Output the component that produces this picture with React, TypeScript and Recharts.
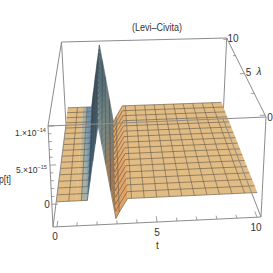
import { ScatterChart, Scatter, XAxis, YAxis } from 'recharts';

// surface values, p in units of 1e-14
const tValues = [0, 0.625, 1, 1.25, 1.55, 1.875, 2.18, 2.5, 2.95, 3.125, 3.55, 3.75, 4.375, 5, 5.625, 6.25, 6.875, 7.5, 8.125, 8.75, 9.375, 10];
const pValues = [0, 0, 0, 0, 0, 0.5, 0.96, 0.46, -0.25, -0.17, 0, 0, 0, 0, 0, 0, 0, 0, 0, 0, 0, 0];
const meshT = [0.625, 1.25, 1.7, 1.875, 2.02, 2.34, 2.5, 2.72, 3.125, 3.75, 4.375, 5, 5.625, 6.25, 6.875, 7.5, 8.125, 8.75, 9.375];
const meshP = [0, 0, 0.23, 0.5, 0.72, 0.71, 0.46, 0.11, -0.17, 0, 0, 0, 0, 0, 0, 0, 0, 0, 0];
const meshLambda = [0, 0.625, 1.25, 1.875, 2.5, 3.125, 3.75, 4.375, 5, 5.625, 6.25, 6.875, 7.5, 8.125, 8.75, 9.375, 10];
const tTicks = [0, 1, 2, 3, 4, 5, 6, 7, 8, 9, 10];
const lambdaTicks = [0, 2.5, 5, 7.5, 10];
const pTicks = [0, 0.1, 0.2, 0.3, 0.4, 0.5, 0.6, 0.7, 0.8, 0.9, 1];

// viewing box: pixel corners of the Mathematica frame
const FBL = [53, 227], FBR = [261, 217], FTL = [48, 126], FTR = [266, 117];
const BBL = [66, 125], BBR = [223, 119], BTL = [61.5, 42], BTR = [226.7, 38];
const T_MIN = -0.2, T_MAX = 10.2, L_MIN = -0.2, L_MAX = 10.2, P_MIN = -0.29, P_MAX = 1;
const DEPTH = 0.82;
const SLOPE_FROM = 1.55, SLOPE_TO = 2.95;

const mix = (a: number[], b: number[], f: number) => [a[0] + (b[0] - a[0]) * f, a[1] + (b[1] - a[1]) * f];

function project(t: number, lambda: number, p: number) {
  const u = (t - T_MIN) / (T_MAX - T_MIN);
  const v = (lambda - L_MIN) / (L_MAX - L_MIN);
  const w = (p - P_MIN) / (P_MAX - P_MIN);
  const s = v / (v + (1 - v) * DEPTH);
  const bottom = mix(mix(FBL, FBR, u), mix(BBL, BBR, u), s);
  const top = mix(mix(FTL, FTR, u), mix(BTL, BTR, u), s);
  const [x, y] = mix(bottom, top, w);
  return { x, y };
}

function toneAt(t: number) {
  if (t <= 1) return '#e1bc84';
  if (t <= 1.25) return '#a9b1a4';
  if (t <= 1.55) return '#6f94b2';
  if (t <= 1.875) return '#6d8a9c';
  if (t <= 2.18) return '#76909a';
  if (t <= 2.5) return '#a2b2aa';
  if (t <= 2.95) return '#dc9c60';
  if (t <= 3.125) return '#dfa366';
  if (t <= 3.55) return '#e2ac70';
  return '#e1bc84';
}

const strips = tValues.slice(0, -1).map((t, i) => {
  const next = tValues[i + 1];
  const corners = [
    project(t, 0, pValues[i]),
    project(next, 0, pValues[i + 1]),
    project(next, 10, pValues[i + 1]),
    project(t, 10, pValues[i]),
  ];
  return { ...corners[0], corners, id: i, from: toneAt(t), to: toneAt(next) };
});

function Strip(props: any) {
  const { cx, cy, payload } = props;
  const c = payload.corners;
  const pts = c.map((q: any) => `${q.x - payload.x + cx},${q.y - payload.y + cy}`).join(' ');
  const off = (q: any, key: 'x' | 'y', o: number) => q[key] - payload[key] + o;
  const id = `strip${payload.id}`;
  return (
    <g>
      <defs>
        <linearGradient
          id={id}
          gradientUnits="userSpaceOnUse"
          x1={(off(c[0], 'x', cx) + off(c[3], 'x', cx)) / 2}
          y1={(off(c[0], 'y', cy) + off(c[3], 'y', cy)) / 2}
          x2={(off(c[1], 'x', cx) + off(c[2], 'x', cx)) / 2}
          y2={(off(c[1], 'y', cy) + off(c[2], 'y', cy)) / 2}
        >
          <stop offset="0" stopColor={payload.from} />
          <stop offset="1" stopColor={payload.to} />
        </linearGradient>
      </defs>
      <polygon points={pts} fill={`url(#${id})`} stroke={`url(#${id})`} strokeWidth={0.3} />
    </g>
  );
}

const NoPoint = () => <g />;

const frame = { stroke: '#8c8c8c', strokeWidth: 1 };
const mesh = { stroke: '#5f5242', strokeWidth: 0.8, strokeOpacity: 0.72 };
const slopeMesh = { stroke: '#2c3a44', strokeWidth: 0.6, strokeOpacity: 0.7 };
const tick = { stroke: '#777', strokeWidth: 0.7 };

const edge = (a: number[], b: number[]) => [{ x: a[0], y: a[1] }, { x: b[0], y: b[1] }];
const backEdges = [edge(BTL, BTR), edge(BTL, BBL), edge(BTR, BBR)];
const frontEdges = [edge(FTL, FTR), edge(FTL, FBL), edge(FTR, FBR), edge(FBL, FBR), edge(FBR, BBR), edge(FBL, BBL), edge(FTL, BTL), edge(FTR, BTR)];

// lambda mesh lines, cut where they cross the steep peak faces
const lambdaPart = (l: number, keep: (t: number) => boolean) =>
  tValues.flatMap((t, i) => (keep(t) ? [project(t, l, pValues[i])] : []));
const leftLines = meshLambda.map((l) => lambdaPart(l, (t) => t <= SLOPE_FROM));
const slopeLines = meshLambda.map((l) => lambdaPart(l, (t) => t >= SLOPE_FROM && t <= SLOPE_TO));
const rightLines = meshLambda.map((l) => lambdaPart(l, (t) => t >= SLOPE_TO));
const tLines = meshT.map((t, i) => ({ t, line: [project(t, 0, meshP[i]), project(t, 10, meshP[i])] }));
const tickLines = [
  ...tTicks.map((t) => [project(t, L_MIN, P_MIN), project(t, L_MIN + (t % 5 === 0 ? 0.5 : 0.3), P_MIN)]),
  ...lambdaTicks.map((l) => [project(T_MAX, l, P_MAX), project(T_MAX - (l % 5 === 0 ? 0.25 : 0.15), l, P_MAX)]),
  ...pTicks.map((p, i) => [project(T_MIN, L_MIN, p), project(T_MIN + (i % 5 === 0 ? 0.3 : 0.15), L_MIN, p)]),
];

const labelFont = { fontFamily: 'Liberation Sans, Arial, sans-serif', fontSize: 10, fill: '#333' };

export default function App() {
  return (
    <div style={{ position: 'absolute', left: 0, top: 0, width: 273, height: 273, background: '#fff' }}>
      <ScatterChart width={273} height={273} margin={{ top: 0, right: 0, bottom: 0, left: 0 }}>
        <XAxis type="number" dataKey="x" domain={[0, 273]} hide />
        <YAxis type="number" dataKey="y" domain={[0, 273]} reversed hide />
        {backEdges.map((d, i) => (
          <Scatter key={`b${i}`} data={d} line={frame} shape={NoPoint} isAnimationActive={false} />
        ))}
        <Scatter data={strips} shape={Strip} isAnimationActive={false} />
        {leftLines.map((d, i) => (
          <Scatter key={`ll${i}`} data={d} line={mesh} shape={NoPoint} isAnimationActive={false} />
        ))}
        {rightLines.map((d, i) => (
          <Scatter key={`lr${i}`} data={d} line={mesh} shape={NoPoint} isAnimationActive={false} />
        ))}
        {slopeLines.map((d, i) => (
          <Scatter key={`ls${i}`} data={d} line={slopeMesh} shape={NoPoint} isAnimationActive={false} />
        ))}
        {tLines.map((d, i) => (
          <Scatter
            key={`t${i}`}
            data={d.line}
            line={d.t > SLOPE_FROM && d.t < SLOPE_TO ? slopeMesh : mesh}
            shape={NoPoint}
            isAnimationActive={false}
          />
        ))}
        {frontEdges.map((d, i) => (
          <Scatter key={`f${i}`} data={d} line={frame} shape={NoPoint} isAnimationActive={false} />
        ))}
        {tickLines.map((d, i) => (
          <Scatter key={`k${i}`} data={d} line={tick} shape={NoPoint} isAnimationActive={false} />
        ))}
        <text x={157} y={31} textAnchor="middle" {...labelFont} fontSize={10.5} textLength={50} lengthAdjust="spacingAndGlyphs">(Levi–Civita)</text>
        <text x={55} y={240} textAnchor="middle" {...labelFont}>0</text>
        <text x={157} y={236} textAnchor="middle" {...labelFont}>5</text>
        <text x={256} y={231} textAnchor="middle" {...labelFont}>10</text>
        <text x={157.5} y={249} textAnchor="middle" {...labelFont}>t</text>
        <text x={233} y={42} textAnchor="middle" {...labelFont}>10</text>
        <text x={248.5} y={76} textAnchor="middle" {...labelFont}>5</text>
        <text x={259} y={75} textAnchor="middle" {...labelFont} fontStyle="italic">λ</text>
        <text x={270} y={121} textAnchor="middle" {...labelFont}>0</text>
        <text x={15} y={135.5} {...labelFont} fontSize={8.5}>
          1.×10<tspan dy={-4} fontSize={5.5}>−14</tspan>
        </text>
        <text x={16} y={172.5} {...labelFont} fontSize={8.5}>
          5.×10<tspan dy={-4} fontSize={5.5}>−15</tspan>
        </text>
        <text x={47} y={208} textAnchor="middle" {...labelFont}>0</text>
        <text x={-1} y={183} {...labelFont} textLength={12} lengthAdjust="spacingAndGlyphs">p[t]</text>
      </ScatterChart>
    </div>
  );
}
